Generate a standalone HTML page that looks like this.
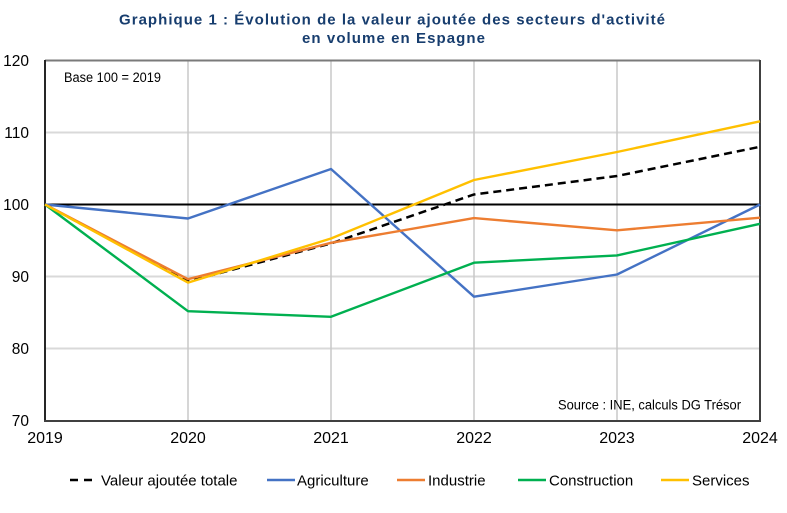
<!DOCTYPE html>
<html><head><meta charset="utf-8"><style>
html,body{margin:0;padding:0;background:#fff;}
svg{display:block;}
text{font-family:"Liberation Sans",Arial,sans-serif;}
</style></head><body>
<svg width="787" height="513" viewBox="0 0 787 513" xmlns="http://www.w3.org/2000/svg">
<rect width="787" height="513" fill="#fff"/>
<!-- title -->
<text x="119" y="24.5" font-size="15" font-weight="bold" fill="#173d6e" textLength="546" lengthAdjust="spacing">Graphique 1 : Évolution de la valeur ajoutée des secteurs d'activité</text>
<text x="302" y="43" font-size="15" font-weight="bold" fill="#173d6e" textLength="183" lengthAdjust="spacing">en volume en Espagne</text>
<!-- gridlines -->
<g stroke="#d9d9d9" stroke-width="2">
<line x1="45" y1="132.5" x2="760" y2="132.5"/>
<line x1="45" y1="276.5" x2="760" y2="276.5"/>
<line x1="45" y1="348.5" x2="760" y2="348.5"/>
</g>
<g stroke="#c8c8c8" stroke-width="1.5">
<line x1="188" y1="60" x2="188" y2="421"/>
<line x1="331" y1="60" x2="331" y2="421"/>
<line x1="474" y1="60" x2="474" y2="421"/>
<line x1="617" y1="60" x2="617" y2="421"/>
</g>
<!-- frame -->
<line x1="45" y1="60.5" x2="760" y2="60.5" stroke="#7a7a7a" stroke-width="2"/>
<line x1="760" y1="60" x2="760" y2="421" stroke="#404040" stroke-width="2"/>
<line x1="45" y1="60" x2="45" y2="421.5" stroke="#262626" stroke-width="2"/>
<line x1="44" y1="421" x2="761" y2="421" stroke="#404040" stroke-width="2"/>
<!-- 100 line -->
<line x1="45" y1="204.5" x2="760" y2="204.5" stroke="#000" stroke-width="2"/>
<!-- series -->
<polyline fill="none" stroke="#000" stroke-width="2.5" stroke-dasharray="8,5" points="45,204.5 188,281.5 331,243.4 474,194.5 617,176 760,146.8"/>
<polyline fill="none" stroke="#4472c4" stroke-width="2.4" stroke-linejoin="round" points="45,204.5 188,218.5 331,169 474,296.7 617,274.5 760,204.5"/>
<polyline fill="none" stroke="#ed7d31" stroke-width="2.4" stroke-linejoin="round" points="45,204.5 188,279.2 331,242.8 474,218.1 617,230.3 760,217.7"/>
<polyline fill="none" stroke="#00b050" stroke-width="2.4" stroke-linejoin="round" points="45,204.5 188,311.2 331,316.8 474,262.7 617,255.4 760,223.8"/>
<polyline fill="none" stroke="#ffc000" stroke-width="2.4" stroke-linejoin="round" points="45,204.5 188,282.6 331,238.5 474,180 617,152 760,121.3"/>
<!-- y labels -->
<g font-size="15.5" fill="#000" text-anchor="end">
<text x="29" y="66">120</text>
<text x="29" y="138">110</text>
<text x="29" y="210">100</text>
<text x="29" y="282">90</text>
<text x="29" y="354">80</text>
<text x="29" y="426">70</text>
</g>
<!-- x labels -->
<g font-size="16" fill="#000" text-anchor="middle">
<text x="45" y="443">2019</text>
<text x="188" y="443">2020</text>
<text x="331" y="443">2021</text>
<text x="474" y="443">2022</text>
<text x="617" y="443">2023</text>
<text x="760" y="443">2024</text>
</g>
<!-- annotations -->
<text x="64" y="82" font-size="13.5" fill="#000" textLength="97" lengthAdjust="spacingAndGlyphs">Base 100 = 2019</text>
<text x="558" y="409.5" font-size="13.5" fill="#000" textLength="183" lengthAdjust="spacingAndGlyphs">Source : INE, calculs DG Trésor</text>
<!-- legend -->
<line x1="70" y1="480" x2="94" y2="480" stroke="#000" stroke-width="2.5" stroke-dasharray="8,6"/>
<text x="101" y="485.5" font-size="15" fill="#000">Valeur ajoutée totale</text>
<line x1="267" y1="480" x2="295" y2="480" stroke="#4472c4" stroke-width="2.5"/>
<text x="297" y="485.5" font-size="15" fill="#000">Agriculture</text>
<line x1="397" y1="480" x2="425" y2="480" stroke="#ed7d31" stroke-width="2.5"/>
<text x="428" y="485.5" font-size="15" fill="#000">Industrie</text>
<line x1="518" y1="480" x2="546" y2="480" stroke="#00b050" stroke-width="2.5"/>
<text x="549" y="485.5" font-size="15" fill="#000">Construction</text>
<line x1="661" y1="480" x2="689" y2="480" stroke="#ffc000" stroke-width="2.5"/>
<text x="692" y="485.5" font-size="15" fill="#000">Services</text>
</svg>
</body></html>
